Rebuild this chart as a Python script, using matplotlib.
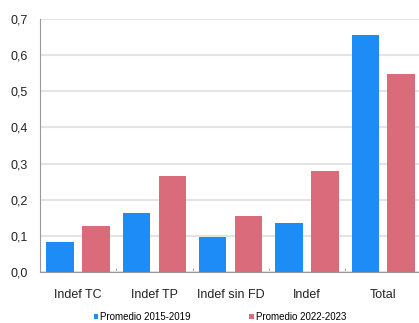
import numpy as np
import matplotlib.pyplot as plt
import matplotlib
from matplotlib.ticker import FixedLocator, FuncFormatter

matplotlib.rcParams['font.family'] = ['Liberation Sans', 'DejaVu Sans']

categorias = ['Indef TC', 'Indef TP', 'Indef sin FD', 'Indef', 'Total']
prom_2015_2019 = [0.083, 0.162, 0.096, 0.136, 0.656]
prom_2022_2023 = [0.127, 0.266, 0.155, 0.280, 0.548]
series = ['Promedio 2015-2019', 'Promedio 2022-2023']

azul = '#1e8cf6'
rosa = '#d96b7b'

fig = plt.figure(figsize=(4.19, 3.23), dpi=100)
ax = fig.add_axes([0.0955, 0.158, 0.91, 0.783])

x = np.arange(len(categorias))
w = 0.36
ax.bar(x - 0.235, prom_2015_2019, w, color=azul, label=series[0], zorder=3)
ax.bar(x + 0.235, prom_2022_2023, w, color=rosa, label=series[1], zorder=3)

ax.set_xlim(-0.5, len(categorias) - 0.5)
ax.set_ylim(0, 0.7)
ax.set_yticks(np.arange(0, 0.71, 0.1))
ax.yaxis.set_major_formatter(FuncFormatter(lambda v, p: f'{v:.1f}'.replace('.', ',')))
ax.set_xticks(x)
ax.set_xticklabels(categorias)
ax.xaxis.set_minor_locator(FixedLocator(np.arange(0.5, len(categorias) - 0.5, 1)))
ax.tick_params(axis='x', which='major', length=0, pad=12, labelsize=9, colors='#222222')
ax.tick_params(axis='x', which='minor', length=3, color='#999999', direction='in')
ax.tick_params(axis='y', length=0, pad=9, labelsize=9, colors='#222222')

ax.grid(axis='y', color='#e4e4e4', linewidth=1.5, zorder=0)
for s in ['top', 'right']:
    ax.spines[s].set_visible(False)
ax.spines['left'].set_color('#999999')
ax.spines['bottom'].set_color('#999999')

fig.legend(loc='lower center', bbox_to_anchor=(0.525, -0.025), ncol=2, frameon=False,
           fontsize=7, handlelength=0.45, handleheight=0.45, handletextpad=0.2,
           columnspacing=6.0)

plt.savefig('out.png', dpi=100)
